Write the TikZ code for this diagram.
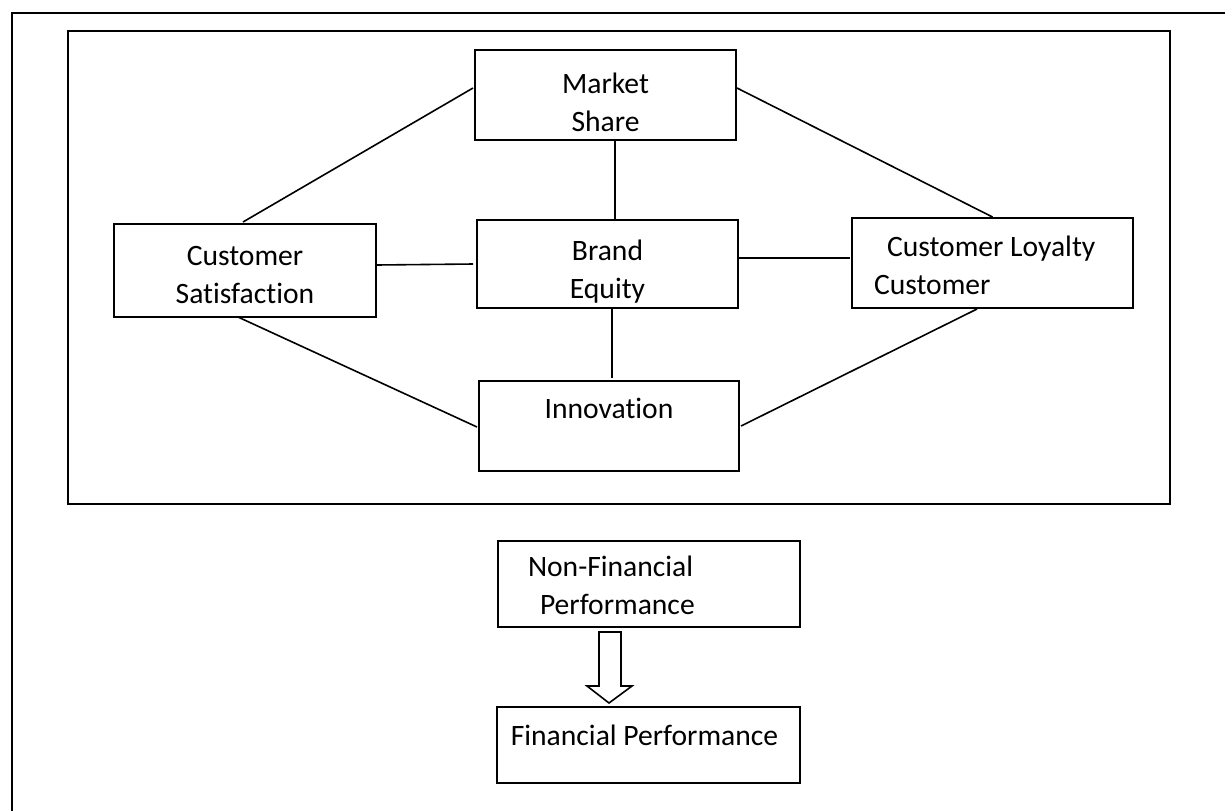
\documentclass[tikz,border=0pt]{standalone}
\usepackage{fontspec}
\setmainfont{Carlito}[Ligatures={NoCommon}, RawFeature={-liga,-clig,-dlig}]
\usetikzlibrary{
  calc,
  positioning,
}
\tikzset{
  x = 0.5pt,
  y = -0.5pt,
  box/.style={
    draw, line width=1pt, inner sep=0pt, outer sep=0pt,
    font=\fontsize{14.8}{19}\selectfont, align=center,
  },
  link/.style={line width=0.8pt},
  frame/.style={line width=1.4pt},
  blockarrow/.style={line width=0.8pt, line join=miter},
}
\newcommand{\lift}[1]{\rule{0pt}{#1}}

\begin{document}
\begin{tikzpicture}
  \useasboundingbox (0,0) rectangle (1225,810);
  \draw[frame] (1240,13) -- (12,13) -- (12,830);
  \draw[line width=1pt] (68,31) rectangle (1170,504);
  %% non-financial measures
  \node[box, minimum width=130.5pt, minimum height=45pt](MS) at (605.5,95) {\lift{18pt}Market\\Share};
  \node[box, minimum width=131pt, minimum height=46.5pt](CS) at (245,270.5) {\lift{14pt}Customer\\Satisfaction};
  \node[box, minimum width=130.5pt, minimum height=44pt](BE) at (607.5,264) {\lift{18pt}Brand\\Equity};
  \node[box, minimum width=140.5pt, minimum height=45pt, align=flush left,
    text width=118.5pt, inner xsep=11pt](CL) at (992.5,263)
    {\lift{13pt}\hspace*{6.5pt}Customer Loyalty\\Customer};
  \node[box, minimum width=130pt, minimum height=45pt,
    text height=9pt, text depth=17pt](IN) at (609,426) {Innovation};
  %%
  \draw[link]([shift={(-2,-7)}]MS.west) -- ([shift={(-2,-2)}]CS.north);
  \draw[link]([shift={(1,-7)}]MS.east) -- ([shift={(0,-1)}]CL.north);
  \draw[link]([shift={(9.5,0)}]MS.south) -- ([shift={(7.5,0)}]BE.north);
  \draw[link]([shift={(0,-5.5)}]CS.east) -- ([shift={(-4,0)}]BE.west);
  \draw[link]([shift={(0,-6)}]BE.east) -- ([shift={(-2,-5)}]CL.west);
  \draw[link]([shift={(4.5,0)}]BE.south) -- ([shift={(3,-3)}]IN.north);
  \draw[link]([shift={(-7,0)}]CS.south) -- ([shift={(-2,1)}]IN.west);
  \draw[link]([shift={(-15.5,1)}]CL.south) -- ([shift={(2,0)}]IN.east);
  %% financial side
  \node[box, minimum width=151pt, minimum height=43pt, align=flush left,
    text width=121pt, inner xsep=15pt](NF) at (649,584)
    {\lift{12pt}Non-Financial\\\hspace*{6pt}Performance};
  \node[box, minimum width=151.5pt, minimum height=38pt,
    text height=10pt, text depth=10pt](FP) at (648.5,745) {Financial Performance\hspace*{4pt}};
  \draw[blockarrow]([shift={(-50,5)}]NF.south) -- ++(22,0) -- ++(0,54)
    -- ++(11,0) -- ++(-23,17) -- ++(-22,-17) -- ++(12,0) -- cycle;
\end{tikzpicture}
\end{document}
